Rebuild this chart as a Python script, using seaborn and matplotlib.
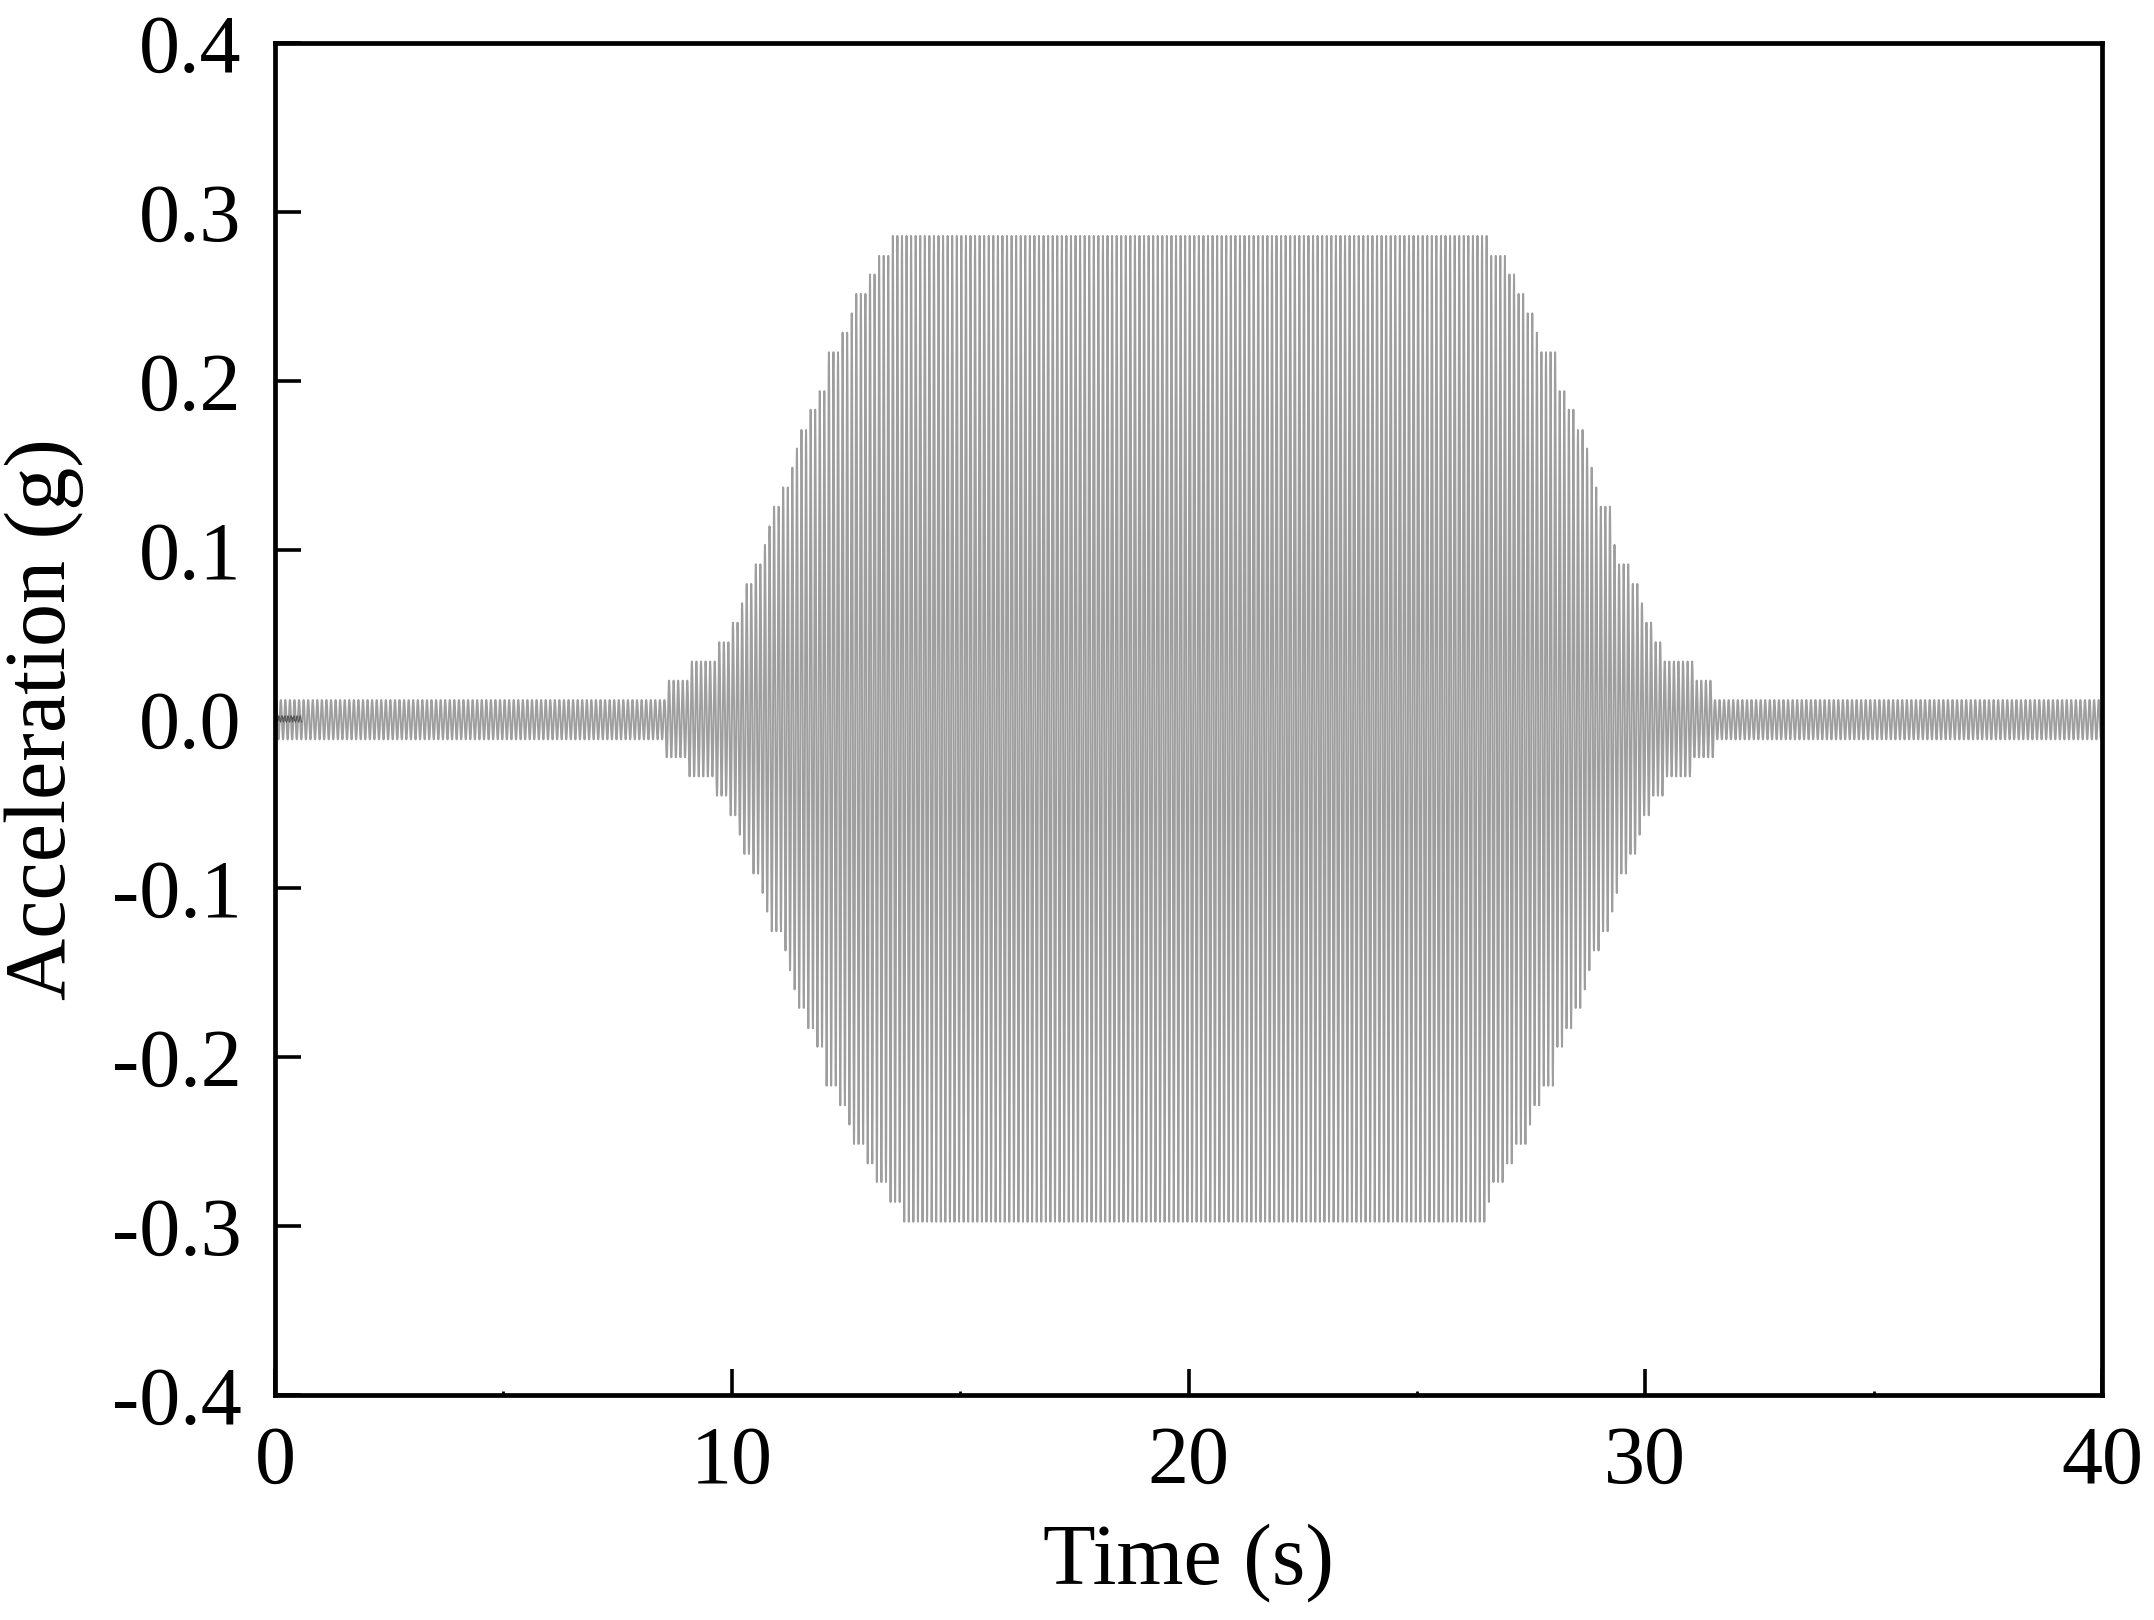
import numpy as np
import pandas as pd
import matplotlib
matplotlib.use("Agg")
import matplotlib.pyplot as plt
import seaborn as sns

# ---- data ----
carrier_hz = 10.0                      # peaks counted ~10 per second
duration = 40.0
base_pos = 0.0112                      # small-amplitude level before/after the burst
base_neg = 0.0121
# step changes of the positive-peak envelope (time s, level g)
up_times = [8.55, 9.06, 9.67, 9.96, 10.16, 10.25, 10.46, 10.67, 10.75, 10.87, 11.08,
            11.25, 11.36, 11.46, 11.66, 11.86, 12.06, 12.37, 12.57, 12.66, 12.95, 13.16, 13.45]
up_levels = [0.0227, 0.034, 0.0454, 0.057, 0.0685, 0.0799, 0.0915, 0.103, 0.114, 0.1256, 0.137,
             0.1487, 0.16, 0.171, 0.183, 0.194, 0.217, 0.2286, 0.24, 0.2515, 0.263, 0.274, 0.2858]
down_times = [26.62, 26.93, 27.15, 27.42, 27.55, 27.72, 28.05, 28.24, 28.43, 28.63, 28.74,
              28.83, 29.02, 29.23, 29.32, 29.42, 29.63, 29.83, 29.93, 30.13, 30.42, 31.03, 31.50]
down_levels = [0.274, 0.263, 0.2515, 0.24, 0.2286, 0.217, 0.194, 0.183, 0.171, 0.16, 0.1487,
               0.137, 0.1256, 0.114, 0.103, 0.0915, 0.0799, 0.0685, 0.057, 0.0454, 0.034, 0.0227, 0.0112]
neg_plateau = 0.2975
neg_plateau_span = [13.68, 26.50]
# short dark trace at the very start
start_trace_end = 0.6
start_trace_amp = 0.002

x_ticks = [0, 10, 20, 30, 40]
y_ticks = [-0.4, -0.3, -0.2, -0.1, 0.0, 0.1, 0.2, 0.3, 0.4]
y_ticklabels = ["-0.4", "-0.3", "-0.2", "-0.1", "0.0", "0.1", "0.2", "0.3", "0.4"]

# ---- build the wave: each half-cycle uses the step level at its peak ----
env_t = np.array([0.0] + up_times + down_times)
env_pos = np.array([base_pos] + up_levels + down_levels)

def level_at(t, neg=False):
    idx = np.searchsorted(env_t, t, side="right") - 1
    lv = env_pos[idx].copy()
    if neg:
        lv[lv == base_pos] = base_neg
        m = (t >= neg_plateau_span[0]) & (t <= neg_plateau_span[1])
        lv[m] = neg_plateau
    return lv

dt = 0.0025
t = np.arange(0, duration + dt / 2, dt)
phase = np.sin(2 * np.pi * carrier_hz * t)
k = np.floor(t * carrier_hz)
t_peak = (k + 0.25) / carrier_hz
t_trough = (k + 0.75) / carrier_hz
acc = np.where(phase >= 0, phase * level_at(t_peak), phase * level_at(t_trough, neg=True))
df = pd.DataFrame({"Time": t, "Acc": acc})

ts = np.arange(0, start_trace_end, 0.01)
df2 = pd.DataFrame({"Time": ts, "Acc": start_trace_amp * np.sin(2 * np.pi * 15 * ts)})

# ---- plot ----
sns.set_theme(style="white")
plt.rcParams["font.family"] = ["Liberation Serif", "DejaVu Serif"]
plt.rcParams["axes.unicode_minus"] = False

fig = plt.figure(figsize=(10.77, 8.10), dpi=200)
ax = fig.add_axes([0.1277, 0.1389, 0.9759 - 0.1277, 0.9735 - 0.1389])

sns.lineplot(data=df, x="Time", y="Acc", ax=ax, color="#9e9e9e", linewidth=0.7,
             estimator=None, sort=False)
sns.lineplot(data=df2, x="Time", y="Acc", ax=ax, color="#555555", linewidth=0.35,
             estimator=None, sort=False)

ax.set_xlim(0, 40)
ax.set_ylim(-0.4, 0.4)
ax.set_xticks(x_ticks)
ax.set_xticklabels([str(v) for v in x_ticks])
ax.set_yticks(y_ticks)
ax.set_yticklabels(y_ticklabels)
ax.set_xticks([5, 15, 25, 35], minor=True)

ax.tick_params(axis="both", which="both", bottom=True, left=True, top=False, right=False)
ax.tick_params(axis="both", which="major", direction="in", length=9.5, width=1.3,
               labelsize=29.5, color="black", labelcolor="black")
ax.tick_params(axis="x", which="minor", direction="in", length=1.5, width=1.0, color="black")
ax.tick_params(axis="x", which="major", pad=11)
ax.tick_params(axis="y", which="major", pad=12)

for s in ax.spines.values():
    s.set_visible(True)
    s.set_color("black")
    s.set_linewidth(1.7)

ax.set_xlabel("Time (s)", fontsize=31, color="black", labelpad=8)
ax.set_ylabel("Acceleration (g)", fontsize=31, color="black", labelpad=10)
ax.grid(False)

fig.savefig("out.png", dpi=200, facecolor="white")
